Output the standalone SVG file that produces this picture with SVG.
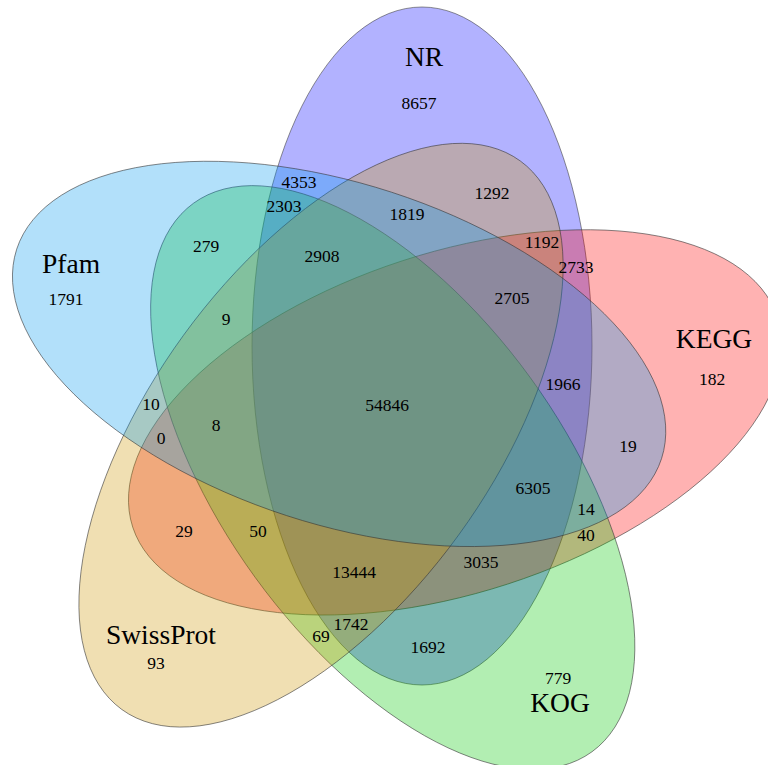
<svg xmlns="http://www.w3.org/2000/svg" width="768" height="765" viewBox="0 0 768 765">
<style>
.set{stroke:#333;stroke-opacity:0.6;stroke-width:0.9}
.lab{font-family:"Liberation Serif","Times New Roman",serif;font-size:27.5px;fill:#000;text-anchor:middle}
.num{font-family:"Liberation Serif","Times New Roman",serif;font-size:17.5px;fill:#000;text-anchor:middle}
</style>
<rect width="768" height="765" fill="#fff"/>
<g id="sets">
<g id="NR"><ellipse class="set" cx="422" cy="346" rx="170" ry="339" fill="#0000ff" fill-opacity="0.3"/></g>
<g id="KEGG"><ellipse class="set" cx="422" cy="346" rx="170" ry="339" transform="rotate(72 386 407)" fill="#ff0000" fill-opacity="0.3"/></g>
<g id="KOG"><ellipse class="set" cx="422" cy="346" rx="170" ry="339" transform="rotate(144 386 407)" fill="#00c800" fill-opacity="0.3"/></g>
<g id="SwissProt"><ellipse class="set" cx="422" cy="346" rx="170" ry="339" transform="rotate(216 386 407)" fill="#cc9400" fill-opacity="0.3"/></g>
<g id="Pfam"><ellipse class="set" cx="422" cy="346" rx="170" ry="339" transform="rotate(288 386 407)" fill="#0098ee" fill-opacity="0.3"/></g>
</g>
<g id="connectors"/>
<g id="labels">
<text class="lab" x="424" y="66">NR</text>
<text class="lab" x="71" y="273">Pfam</text>
<text class="lab" x="714" y="348">KEGG</text>
<text class="lab" x="161" y="644">SwissProt</text>
<text class="lab" x="560" y="712">KOG</text>
</g>
<g id="counts">
<text class="num" x="419" y="109">8657</text>
<text class="num" x="66" y="305">1791</text>
<text class="num" x="712" y="385">182</text>
<text class="num" x="156" y="669">93</text>
<text class="num" x="558" y="684">779</text>
<text class="num" x="299" y="188">4353</text>
<text class="num" x="284" y="212">2303</text>
<text class="num" x="492" y="199">1292</text>
<text class="num" x="407" y="220">1819</text>
<text class="num" x="542" y="248">1192</text>
<text class="num" x="576" y="273">2733</text>
<text class="num" x="206" y="252">279</text>
<text class="num" x="322" y="262">2908</text>
<text class="num" x="512" y="304">2705</text>
<text class="num" x="226" y="325">9</text>
<text class="num" x="563" y="390">1966</text>
<text class="num" x="387" y="411">54846</text>
<text class="num" x="151" y="410">10</text>
<text class="num" x="161" y="444">0</text>
<text class="num" x="216" y="431">8</text>
<text class="num" x="628" y="452">19</text>
<text class="num" x="533" y="494">6305</text>
<text class="num" x="586" y="515">14</text>
<text class="num" x="586" y="541">40</text>
<text class="num" x="184" y="537">29</text>
<text class="num" x="258" y="537">50</text>
<text class="num" x="481" y="568">3035</text>
<text class="num" x="354" y="578">13444</text>
<text class="num" x="351" y="630">1742</text>
<text class="num" x="321" y="642">69</text>
<text class="num" x="428" y="653">1692</text>
</g>
</svg>
